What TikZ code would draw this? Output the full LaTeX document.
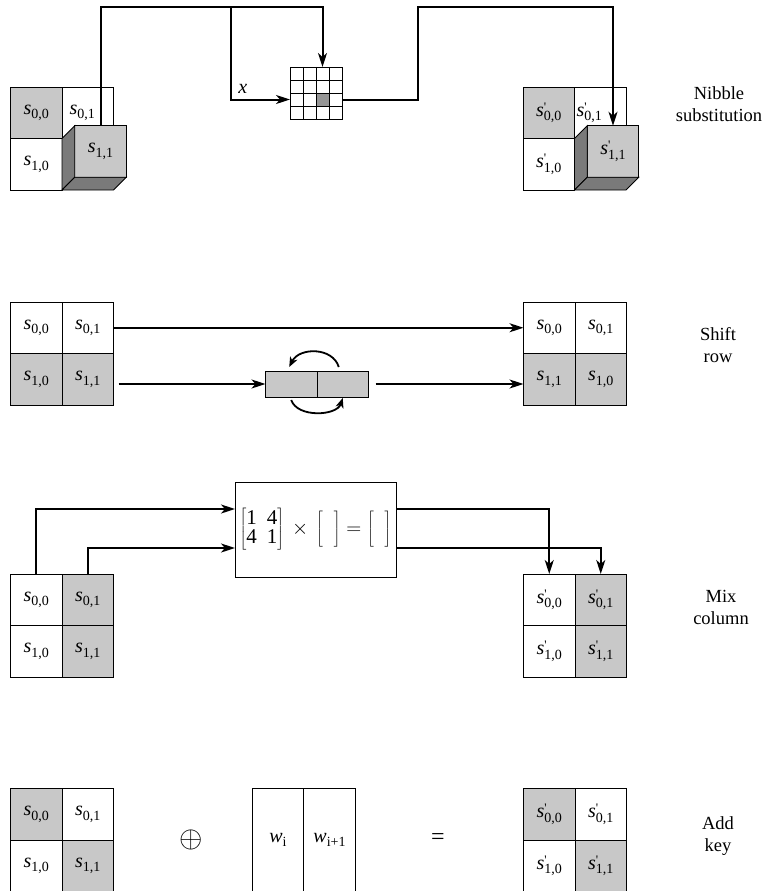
\documentclass[tikz,border=0pt]{standalone}
\usepackage{fontspec}
\setmainfont{Liberation Serif}
\usepackage{graphicx}
\usepackage{tikz}
\usetikzlibrary{arrows.meta,calc}
\usetikzlibrary{positioning}

\definecolor{cellgray}{RGB}{200,200,200}
\definecolor{sidegray}{RGB}{122,122,122}
\definecolor{boxgray}{RGB}{150,150,150}

\newcommand{\subtxt}[1]{{\fontsize{14}{16}\selectfont\raisebox{-4.5pt}{#1}}}
\newcommand{\sv}[1]{\textit{s}\subtxt{#1}}
\newcommand{\svp}[1]{\textit{s}\rlap{\fontsize{13}{15}\selectfont\raisebox{5pt}{\textquotesingle}}\subtxt{#1}}
\newcommand{\brk}{\vrule width 0pt height 21pt depth 14pt}

\tikzset{
  cell/.style={draw, line width=0.9pt, minimum width=51.5pt, minimum height=51.5pt,
    inner sep=0pt, outer sep=0pt, font=\fontsize{20}{23}\selectfont},
  dark/.style={fill=cellgray},
  conn/.style={line width=2pt, -{Stealth[length=14pt,width=9pt,inset=4pt]}},
  swaparr/.style={line width=1.8pt, -{Stealth[length=10pt,width=8pt,inset=3pt]}},
  side/.style={font=\fontsize{18.5}{22}\selectfont, align=center},
}

\begin{document}
\begin{tikzpicture}[x=1pt,y=-1pt]
  \useasboundingbox (0,0) rectangle (764,891);

  % nibble substitution
  \coordinate (top) at (0,7);
  \node[cell,dark] (a00) at (36.25,112.75) {\sv{0,0}};
  \node[cell] (a01) at (87.75,112.75) {\sv{0,1}\hspace*{11pt}};
  \node[cell] (a10) at (36.25,164.25) {\sv{1,0}};
  \node[cell,dark] (a11) at (100.5,151.5) {\sv{1,1}};
  \filldraw[fill=sidegray,line width=0.9pt] (a10.north east) -- (a11.north west) -- (a11.south west) -- (a10.south east) -- cycle;
  \filldraw[fill=sidegray,line width=0.9pt] (a10.south east) -- (a11.south west) -- (a11.south east) -- ($(a10.south east)+(51.5,0)$) -- cycle;

  \node[draw, line width=0.9pt, minimum size=52pt, inner sep=0pt, outer sep=0pt] (sbox) at (316,93) {};
  \fill[boxgray] ($(sbox.north west)+(26,26)$) rectangle ++(13,13);
  \foreach \k in {13,26,39} {
    \draw[line width=0.9pt] ($(sbox.north west)+(\k,0)$) -- ++(0,52);
    \draw[line width=0.9pt] ($(sbox.north west)+(0,\k)$) -- ++(52,0);
  }

  \node[cell,dark] (b00) at (548.75,112.75) {\svp{0,0}};
  \node[cell] (b01) at (600.25,112.75) {\svp{0,1}\hspace*{22pt}};
  \node[cell] (b10) at (548.75,164.25) {\svp{1,0}};
  \node[cell,dark] (b11) at (613,151.5) {\svp{1,1}};
  \filldraw[fill=sidegray,line width=0.9pt] (b10.north east) -- (b11.north west) -- (b11.south west) -- (b10.south east) -- cycle;
  \filldraw[fill=sidegray,line width=0.9pt] (b10.south east) -- (b11.south west) -- (b11.south east) -- ($(b10.south east)+(51.5,0)$) -- cycle;

  \coordinate (xsplit) at (231,7);
  \coordinate (outbus) at (418,7);
  \draw[conn] (a11.north) -- (a11.north |- top) -| ($(sbox.north)+(6.5,0)$);
  \draw[conn] (xsplit) |- ($(sbox.west)+(0,6.5)$) node[pos=0.5, anchor=south west, xshift=3pt, yshift=2pt, font=\fontsize{20}{23}\selectfont] (xlab) {\textit{x}};
  \draw[conn] ($(sbox.east)+(0,6.5)$) -| (outbus) -| (b11.north);
  \node[side] (lab1) at (719,104) {Nibble\\substitution};

  % shift row
  \node[cell] (c00) at (36.25,327.75) {\sv{0,0}};
  \node[cell] (c01) at (87.75,327.75) {\sv{0,1}};
  \node[cell,dark] (c10) at (36.25,379.25) {\sv{1,0}};
  \node[cell,dark] (c11) at (87.75,379.25) {\sv{1,1}};
  \node[cell] (d00) at (549.25,327.75) {\sv{0,0}};
  \node[cell] (d01) at (600.75,327.75) {\sv{0,1}};
  \node[cell,dark] (d10) at (549.25,379.25) {\sv{1,1}};
  \node[cell,dark] (d11) at (600.75,379.25) {\sv{1,0}};
  \node[cell,dark,minimum height=26pt] (r1) at (291.25,384) {};
  \node[cell,dark,minimum height=26pt] (r2) at (342.75,384) {};
  \draw[conn] (c01.east) -- (d00.west);
  \draw[conn, shorten <=5pt] (c11.east |- r1.west) -- (r1.west);
  \draw[conn, shorten <=7pt] (r2.east) -- (r2.east -| d10.west);
  \draw[swaparr] ($(r2.north)+(-4,-4)$) .. controls +(-6,-20) and +(10,-20) .. ($(r1.north)+(-2,-4)$);
  \draw[swaparr] ($(r1.south)+(0,3)$) .. controls +(6,18) and +(-6,18) .. ($(r2.south)+(0,1)$);
  \node[side] (lab2) at (718,345) {Shift\\row};

  % mix column
  \node[draw, line width=0.9pt, minimum width=161pt, minimum height=95pt, inner sep=0pt, outer sep=0pt] (mix) at (315.5,529.5)
    {\fontsize{21}{24}\selectfont$\left[\brk\begin{tabular}{@{}c@{\hspace{10pt}}c@{}}1&4\\[-5pt]4&1\end{tabular}\right]\,\times\,
     \left[\brk\hspace{11pt}\right]=\left[\brk\hspace{11pt}\right]$};
  \node[cell] (e00) at (36.25,599.75) {\sv{0,0}};
  \node[cell,dark] (e01) at (87.75,599.75) {\sv{0,1}};
  \node[cell] (e10) at (36.25,651.25) {\sv{1,0}};
  \node[cell,dark] (e11) at (87.75,651.25) {\sv{1,1}};
  \node[cell] (f00) at (549.25,599.75) {\svp{0,0}};
  \node[cell,dark] (f01) at (600.75,599.75) {\svp{0,1}};
  \node[cell] (f10) at (549.25,651.25) {\svp{1,0}};
  \node[cell,dark] (f11) at (600.75,651.25) {\svp{1,1}};
  \draw[conn] (e00.north) |- ($(mix.west)+(0,-20.5)$);
  \draw[conn] (e01.north) |- ($(mix.west)+(0,18.5)$);
  \draw[conn] ($(mix.east)+(0,-20.5)$) -| (f00.north);
  \draw[conn] ($(mix.east)+(0,18.5)$) -| (f01.north);
  \node[side] (lab3) at (721,607) {Mix\\column};

  % add key
  \node[cell,dark] (g00) at (36.25,814.25) {\sv{0,0}};
  \node[cell] (g01) at (87.75,814.25) {\sv{0,1}};
  \node[cell] (g10) at (36.25,865.75) {\sv{1,0}};
  \node[cell,dark] (g11) at (87.75,865.75) {\sv{1,1}};
  \node[font=\fontsize{20}{24}\selectfont] (plus) at (191,839.5) {\scalebox{1.45}{$\oplus$}};
  \node[cell,minimum height=103pt] (w1) at (278,840) {\textit{w}\subtxt{i}};
  \node[cell,minimum height=103pt] (w2) at (329.5,840) {\textit{w}\subtxt{i+1}};
  \node[font=\fontsize{20}{24}\selectfont] (eq) at (438,839.5) {\scalebox{1.2}{=}};
  \node[cell,dark] (h00) at (549.25,814.25) {\svp{0,0}};
  \node[cell] (h01) at (600.75,814.25) {\svp{0,1}};
  \node[cell] (h10) at (549.25,865.75) {\svp{1,0}};
  \node[cell,dark] (h11) at (600.75,865.75) {\svp{1,1}};
  \node[side] (lab4) at (718,836) {Add\\key};
\end{tikzpicture}
\end{document}
